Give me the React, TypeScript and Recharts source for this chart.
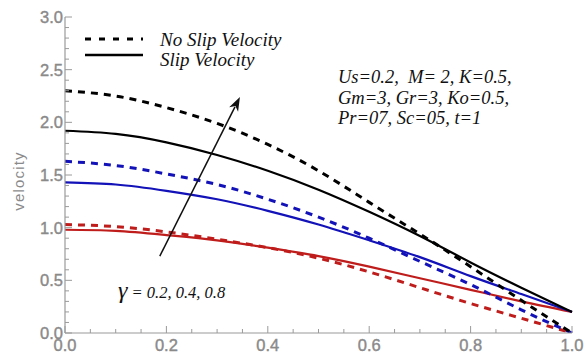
import React from 'react';
import { LineChart, Line, XAxis, YAxis, ReferenceLine } from 'recharts';

// y (position across the channel) and velocity profiles
const yPos = [0, 0.1, 0.2, 0.3, 0.4, 0.5, 0.6, 0.7, 0.8, 0.9, 1.0];
const noSlip08 = [2.30, 2.25, 2.14, 1.99, 1.79, 1.54, 1.24, 0.94, 0.63, 0.31, 0.0];
const slip08 = [1.92, 1.89, 1.81, 1.69, 1.54, 1.36, 1.15, 0.92, 0.67, 0.43, 0.20];
const noSlip04 = [1.63, 1.59, 1.51, 1.41, 1.27, 1.10, 0.90, 0.68, 0.46, 0.22, 0.0];
const slip04 = [1.43, 1.41, 1.35, 1.27, 1.16, 1.03, 0.88, 0.72, 0.54, 0.37, 0.20];
const noSlip02 = [1.03, 1.01, 0.96, 0.89, 0.81, 0.71, 0.58, 0.43, 0.28, 0.14, 0.0];
const slip02 = [0.98, 0.97, 0.93, 0.88, 0.81, 0.73, 0.63, 0.52, 0.41, 0.30, 0.20];

const xTicks = [0, 0.05, 0.1, 0.15, 0.2, 0.25, 0.3, 0.35, 0.4, 0.45, 0.5, 0.55, 0.6, 0.65, 0.7, 0.75, 0.8, 0.85, 0.9, 0.95, 1.0];
const yTicks = [0, 0.1, 0.2, 0.3, 0.4, 0.5, 0.6, 0.7, 0.8, 0.9, 1.0, 1.1, 1.2, 1.3, 1.4, 1.5, 1.6, 1.7, 1.8, 1.9, 2.0,
  2.1, 2.2, 2.3, 2.4, 2.5, 2.6, 2.7, 2.8, 2.9, 3.0];

// gamma arrow, from the low curves up to the high ones
const arrowFrom = { x: 0.187, y: 0.73 };
const arrowTo = { x: 0.345, y: 2.24 };

const data = yPos.map((x, i) => ({
  x,
  ns08: noSlip08[i], s08: slip08[i],
  ns04: noSlip04[i], s04: slip04[i],
  ns02: noSlip02[i], s02: slip02[i],
}));

const FRAME = '#9a9a9a';
const LABEL = '#8a8a8a';
const BLUE = '#1212b8';
const RED = '#bf1c1c';
const sans = 'Liberation Sans, Arial, sans-serif';
const serif = 'Liberation Serif, Times New Roman, serif';

const isMajor = (v: number, step: number) => Math.abs(v / step - Math.round(v / step)) < 1e-6;

const BottomTick = (p: any) => {
  const v = p.payload.value;
  const major = isMajor(v, 0.2);
  return (
    <g>
      <line x1={p.x} x2={p.x} y1={p.y} y2={p.y - (major ? 7 : 4)} stroke={FRAME} strokeWidth={1} />
      {major && (
        <text x={p.x} y={p.y + 18} textAnchor="middle" fill={LABEL} stroke={LABEL} strokeWidth={0.4}
          fontSize={16.5} fontFamily={sans}>
          {v.toFixed(1)}
        </text>
      )}
    </g>
  );
};

const TopTick = (p: any) => {
  const major = isMajor(p.payload.value, 0.2);
  return <line x1={p.x} x2={p.x} y1={p.y} y2={p.y + (major ? 7 : 4)} stroke={FRAME} strokeWidth={1} />;
};

const LeftTick = (p: any) => {
  const v = p.payload.value;
  const major = isMajor(v, 0.5);
  return (
    <g>
      <line x1={p.x} x2={p.x + (major ? 7 : 4)} y1={p.y} y2={p.y} stroke={FRAME} strokeWidth={1} />
      {major && (
        <text x={p.x - 2} y={p.y + 6} textAnchor="end" fill={LABEL} stroke={LABEL} strokeWidth={0.4}
          fontSize={16.5} fontFamily={sans}>
          {v.toFixed(1)}
        </text>
      )}
    </g>
  );
};

const RightTick = (p: any) => {
  const major = isMajor(p.payload.value, 0.5);
  return <line x1={p.x} x2={p.x - (major ? 7 : 4)} y1={p.y} y2={p.y} stroke={FRAME} strokeWidth={1} />;
};

const Arrow = (p: any) => {
  const { x1, y1, x2, y2 } = p;
  const a = Math.atan2(y2 - y1, x2 - x1);
  const L = 14, W = 5;
  const bx = x2 - L * Math.cos(a);
  const by = y2 - L * Math.sin(a);
  const nx = -Math.sin(a), ny = Math.cos(a);
  const pts = `${x2},${y2} ${bx + W * nx},${by + W * ny} ${x2 - (L - 4) * Math.cos(a)},${y2 - (L - 4) * Math.sin(a)} ${bx - W * nx},${by - W * ny}`;
  return (
    <g>
      <line x1={x1} y1={y1} x2={bx + 3 * Math.cos(a)} y2={by + 3 * Math.sin(a)} stroke="#111" strokeWidth={1.5} />
      <polygon points={pts} fill="#111" />
    </g>
  );
};

export default function App() {
  return (
    <div style={{ position: 'absolute', left: 0, top: 0, width: 584, height: 360, background: '#fff' }}>
      <LineChart width={584} height={360} data={data} margin={{ top: 17, right: 12, bottom: 0, left: 0 }}>
        <XAxis xAxisId="b" dataKey="x" type="number" domain={[0, 1]} ticks={xTicks} interval={0}
          height={27} tickSize={0} tickMargin={0} tickLine={false} tick={BottomTick}
          axisLine={{ stroke: FRAME, strokeWidth: 1.2 }} />
        <XAxis xAxisId="t" dataKey="x" type="number" orientation="top" domain={[0, 1]} ticks={xTicks} interval={0}
          height={0} tickSize={0} tickMargin={0} tickLine={false} tick={TopTick}
          axisLine={{ stroke: FRAME, strokeWidth: 1.2 }} />
        <YAxis yAxisId="l" type="number" domain={[0, 3]} ticks={yTicks} interval={0} allowDataOverflow
          width={65} tickSize={0} tickMargin={0} tickLine={false} tick={LeftTick}
          axisLine={{ stroke: FRAME, strokeWidth: 1.2 }} />
        <YAxis yAxisId="r" type="number" orientation="right" domain={[0, 3]} ticks={yTicks} interval={0} allowDataOverflow
          width={0} tickSize={0} tickMargin={0} tickLine={false} tick={RightTick}
          axisLine={{ stroke: FRAME, strokeWidth: 1.2 }} />

        <Line xAxisId="b" yAxisId="l" type="natural" dataKey="ns02" stroke={RED} strokeWidth={3} strokeDasharray="7 6" dot={false} isAnimationActive={false} />
        <Line xAxisId="b" yAxisId="l" type="natural" dataKey="s02" stroke={RED} strokeWidth={2.2} dot={false} isAnimationActive={false} />
        <Line xAxisId="b" yAxisId="l" type="natural" dataKey="ns04" stroke={BLUE} strokeWidth={3} strokeDasharray="7 6" dot={false} isAnimationActive={false} />
        <Line xAxisId="b" yAxisId="l" type="natural" dataKey="s04" stroke={BLUE} strokeWidth={2.2} dot={false} isAnimationActive={false} />
        <Line xAxisId="b" yAxisId="l" type="natural" dataKey="ns08" stroke="#000" strokeWidth={3} strokeDasharray="7 6" dot={false} isAnimationActive={false} />
        <Line xAxisId="b" yAxisId="l" type="natural" dataKey="s08" stroke="#000" strokeWidth={2.2} dot={false} isAnimationActive={false} />

        <ReferenceLine xAxisId="b" yAxisId="l" segment={[arrowFrom, arrowTo]} shape={Arrow} />
      </LineChart>

      {/* legend + annotations drawn on top */}
      <svg width={584} height={360} style={{ position: 'absolute', left: 0, top: 0, pointerEvents: 'none' }}>
        <line x1={85} x2={143} y1={39} y2={39} stroke="#000" strokeWidth={3.2} strokeDasharray="6 8" />
        <line x1={85} x2={143} y1={55} y2={55} stroke="#000" strokeWidth={2.6} />
        <text x={160} y={46} fontFamily={serif} fontStyle="italic" fontSize={19} fill="#111">No Slip Velocity</text>
        <text x={160} y={66} fontFamily={serif} fontStyle="italic" fontSize={19} fill="#111">Slip Velocity</text>

        <text fontFamily={serif} fontStyle="italic" fontSize={18.5} fill="#111">
          <tspan x={338} y={83} xmlSpace="preserve">Us=0.2,  M= 2, K=0.5,</tspan>
          <tspan x={338} y={104}>Gm=3, Gr=3, Ko=0.5,</tspan>
          <tspan x={338} y={124}>Pr=07, Sc=05, t=1</tspan>
        </text>

        <text x={118} y={298} fontFamily={serif} fontStyle="italic" fill="#111">
          <tspan fontSize={24}>γ</tspan>
          <tspan fontSize={16.5}> = 0.2, 0.4, 0.8</tspan>
        </text>

        <text transform="translate(24,181) rotate(-90)" textAnchor="middle" fontSize={15} letterSpacing={1.2}
          fill={LABEL} fontFamily={sans}>velocity</text>
      </svg>
    </div>
  );
}
